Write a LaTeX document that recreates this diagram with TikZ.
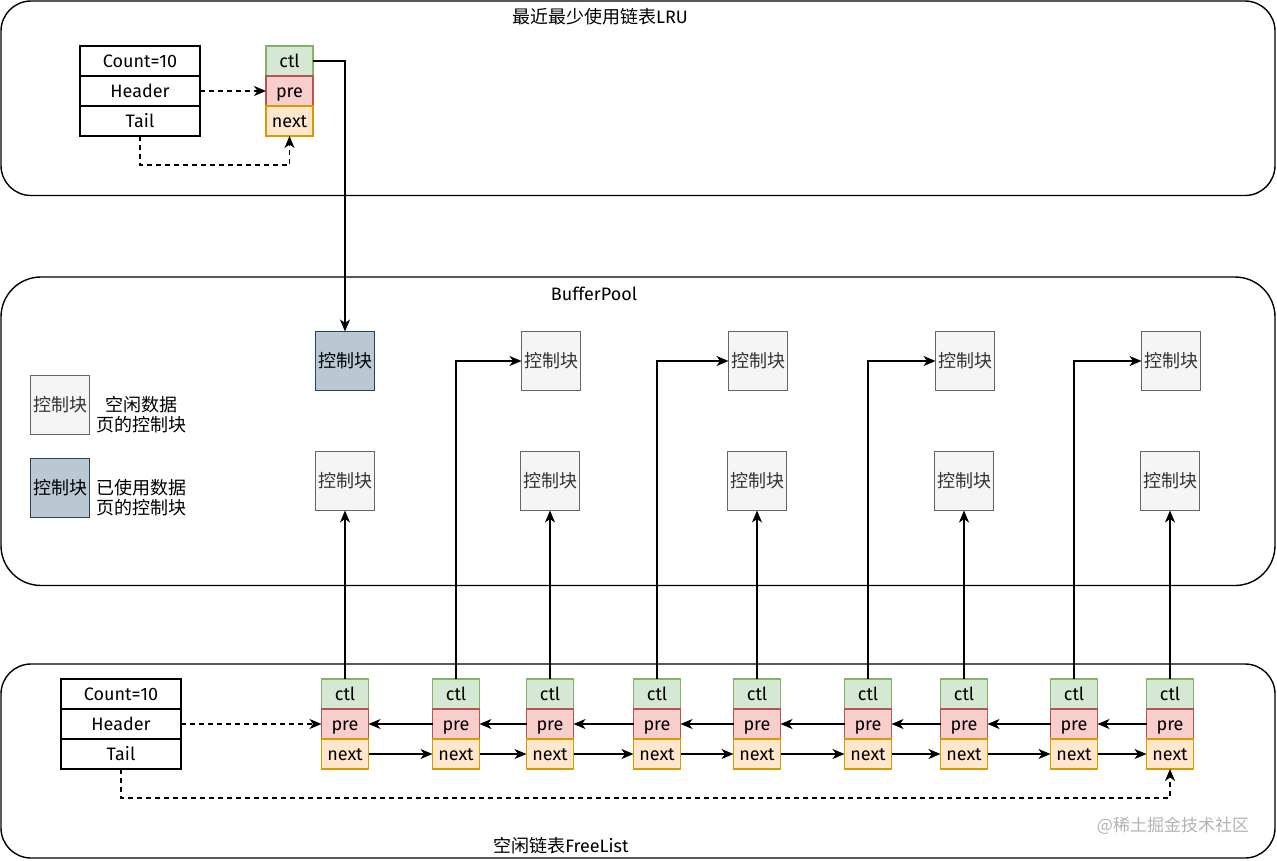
\documentclass[tikz,border=0pt]{standalone}
\usepackage{fontspec}
\setmainfont{Fira Sans}
\newfontfamily\cjk{Noto Sans CJK SC}
\usetikzlibrary{arrows.meta}
\definecolor{ctlfill}{HTML}{D5E8D4}\definecolor{ctldraw}{HTML}{82B366}
\definecolor{prefill}{HTML}{F8CECC}\definecolor{predraw}{HTML}{B85450}
\definecolor{nextfill}{HTML}{FFE6CC}\definecolor{nextdraw}{HTML}{D79B00}
\definecolor{freefill}{HTML}{F5F5F5}\definecolor{freedraw}{HTML}{666666}\definecolor{freetext}{HTML}{333333}
\definecolor{usedfill}{HTML}{BAC8D3}\definecolor{useddraw}{HTML}{23445D}
\begin{document}
\begin{tikzpicture}[x=1pt,y=-1pt,
  every node/.style={font=\fontsize{18}{20}\selectfont, inner sep=0pt, outer sep=0pt},
  container/.style={draw, line width=1.4pt},
  tblrow/.style={draw, line width=1.4pt, minimum width=120pt, minimum height=30pt, text height=14pt, text depth=1pt},
  cell/.style={line width=1.4pt, minimum width=47pt, minimum height=30pt, text height=14pt, text depth=1pt},
  ctlcell/.style={cell, fill=ctlfill, draw=ctldraw},
  precell/.style={cell, fill=prefill, draw=predraw},
  nextcell/.style={cell, fill=nextfill, draw=nextdraw},
  blk/.style={line width=1.4pt, minimum width=59pt, minimum height=59pt, font=\cjk\fontsize{18}{20}\selectfont},
  freeblk/.style={blk, fill=freefill, draw=freedraw, text=freetext},
  usedblk/.style={blk, fill=usedfill, draw=useddraw, text=black},
  arr/.style={-{Stealth[length=12pt,width=10pt,inset=3.5pt]}, line width=1.3pt},
  dasharr/.style={arr, dash pattern=on 5pt off 4pt},
  cjktext/.style={font=\cjk\fontsize{18}{20}\selectfont, align=center}
]
\useasboundingbox (0,0) rectangle (1277,860);
% containers
\draw[container, rounded corners=30pt] (1,1) rectangle (1275,195.5);
\draw[container, rounded corners=40pt] (1,277) rectangle (1275,585.5);
\draw[container, rounded corners=30pt] (1,664) rectangle (1275,858);
% titles
\node (ttop) at (600,17) {{\cjk 最近最少使用链表}LRU};
\node (tmid) at (594,294) {BufferPool};
\node (tbot) at (561,846) {{\cjk 空闲链表}FreeList};
\node[text=black!30, font=\cjk\fontsize{17}{20}\selectfont] (wm) at (1173,826) {@稀土掘金技术社区};
% LRU
\node[tblrow] (lcount) at (140,61) {Count=10};
\node[tblrow] (lhead) at (140,91) {Header};
\node[tblrow] (ltail) at (140,121) {Tail};
\node[ctlcell] (lc) at (289.5,61) {ctl};
\node[precell] (lp) at (289.5,91) {pre};
\node[nextcell] (ln) at (289.5,121) {next};
\draw[dasharr] (lhead.east) -- (lp.west);
\draw[dasharr] (ltail.south) -- ++(0,29) -| (ln.south);
% Buffer pool
\node[usedblk] (ub) at (345,361) {控制块};
\node[freeblk] (t2) at (551,361) {控制块};
\node[freeblk] (t3) at (758,361) {控制块};
\node[freeblk] (t4) at (965,361) {控制块};
\node[freeblk] (t5) at (1171,361) {控制块};
\node[freeblk] (b1) at (345,481) {控制块};
\node[freeblk] (b2) at (550,481) {控制块};
\node[freeblk] (b3) at (757,481) {控制块};
\node[freeblk] (b4) at (964,481) {控制块};
\node[freeblk] (b5) at (1170,481) {控制块};
\draw[arr] (lc.east) -| (ub.north);
% legend
\node[freeblk] (lgfree) at (60,405) {控制块};
\node[usedblk] (lgused) at (60,488) {控制块};
\node[cjktext] (lgfreet) at (141,415) {空闲数据\\页的控制块};
\node[cjktext] (lgusedt) at (141,498) {已使用数据\\页的控制块};
% Free list
\node[tblrow] (fcount) at (121,694) {Count=10};
\node[tblrow] (fhead) at (121,724) {Header};
\node[tblrow] (ftail) at (121,754) {Tail};
\foreach \i/\x in {1/345,2/456,3/550,4/657,5/757,6/868,7/964,8/1074,9/1170}{
  \node[ctlcell] (f\i c) at (\x,694) {ctl};
  \node[precell] (f\i p) at (\x,724) {pre};
  \node[nextcell] (f\i n) at (\x,754) {next};
}
\foreach \i [evaluate=\i as \j using int(\i+1)] in {1,...,8}{
  \draw[arr] (f\j p.west) -- (f\i p.east);
  \draw[arr] (f\i n.east) -- (f\j n.west);
}
\draw[arr] (f1c.north) -- (b1.south);
\draw[arr] (f3c.north) -- (b2.south);
\draw[arr] (f5c.north) -- (b3.south);
\draw[arr] (f7c.north) -- (b4.south);
\draw[arr] (f9c.north) -- (b5.south);
\draw[arr] (f2c.north) |- (t2.west);
\draw[arr] (f4c.north) |- (t3.west);
\draw[arr] (f6c.north) |- (t4.west);
\draw[arr] (f8c.north) |- (t5.west);
\draw[dasharr] (fhead.east) -- (f1p.west);
\draw[dasharr] (ftail.south) -- ++(0,29) -| (f9n.south);
\end{tikzpicture}
\end{document}
